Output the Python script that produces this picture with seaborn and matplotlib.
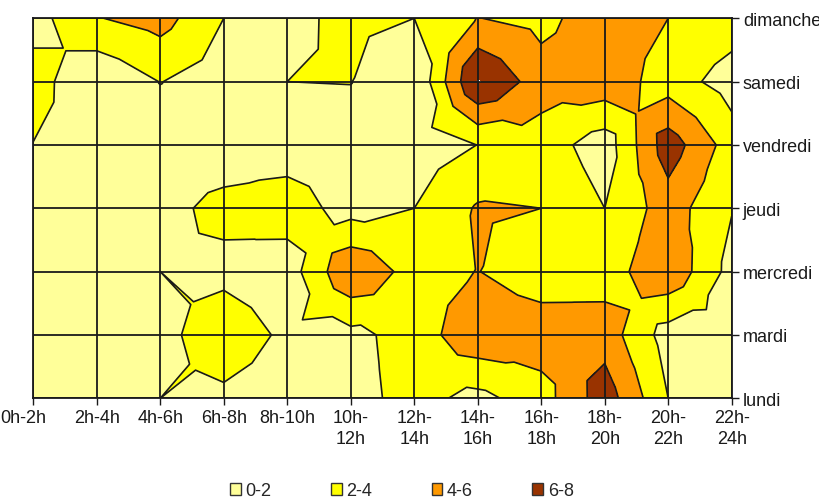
import numpy as np
import matplotlib
matplotlib.use("Agg")
import matplotlib.pyplot as plt
import matplotlib.tri as mtri
import matplotlib.transforms as mtransforms
from matplotlib.patches import Patch
import seaborn as sns

hours = ['0h-2h', '2h-4h', '4h-6h', '6h-8h', '8h-10h', '10h-\n12h', '12h-\n14h',
         '14h-\n16h', '16h-\n18h', '18h-\n20h', '20h-\n22h', '22h-\n24h']
days = ['lundi', 'mardi', 'mercredi', 'jeudi', 'vendredi', 'samedi', 'dimanche']

# one list per day, one value per 2h slot
lundi = [1.0, 1.0, 2.0, 1.6, 1.0, 1.3, 2.7, 1.4, 3.1, 7.1, 2.0, 1.0]
mardi = [1.0, 1.0, 1.4, 3.2, 1.6, 1.4, 2.9, 5.5, 5.2, 5.1, 1.1, 1.0]
mercredi = [1.0, 1.0, 2.0, 1.5, 0.95, 5.8, 3.15, 4.05, 2.85, 3.0, 5.6, 1.3]
jeudi = [1.0, 1.0, 1.46, 2.5, 3.0, 1.2, 2.0, 4.2, 4.0, 2.0, 5.0, 2.1]
vendredi = [1.95, 1.0, 1.0, 1.0, 1.0, 1.0, 1.0, 2.02, 3.1, 0.9, 7.1, 3.0]
samedi = [2.9, 0.2, 2.05, 1.0, 2.0, 2.05, 0.0, 8.2, 4.9, 5.3, 3.0, 1.1]
dimanche = [1.2, 3.9, 4.8, 2.0, 1.5, 2.5, 2.0, 4.05, 3.4, 5.2, 4.0, 3.0]

levels = [0, 2, 4, 6, 8]
level_labels = ['0-2', '2-4', '4-6', '6-8']
level_colors = ['#FFFF99', '#FFFF00', '#FF9900', '#993300']

z = np.array([lundi, mardi, mercredi, jeudi, vendredi, samedi, dimanche])
ny, nx = z.shape

# nodes + cell centres, each cell split in 4 triangles (like the spreadsheet surface)
gx, gy = np.meshgrid(np.arange(nx), np.arange(ny))
cx, cy = np.meshgrid(np.arange(nx - 1) + 0.5, np.arange(ny - 1) + 0.5)
cz = (z[:-1, :-1] + z[1:, :-1] + z[:-1, 1:] + z[1:, 1:]) / 4.0
xs = np.concatenate([gx.ravel(), cx.ravel()])
ys = np.concatenate([gy.ravel(), cy.ravel()])
vals = np.concatenate([z.ravel(), cz.ravel()])

tris = []
for j in range(ny - 1):
    for i in range(nx - 1):
        a = j * nx + i
        b = a + 1
        c = a + nx + 1
        d = a + nx
        m = nx * ny + j * (nx - 1) + i
        tris += [[a, b, m], [b, c, m], [c, d, m], [d, a, m]]
tri = mtri.Triangulation(xs, ys, np.array(tris))

sns.set_theme(style="white")
plt.rcParams['font.family'] = ['Liberation Sans', 'DejaVu Sans']

fig = plt.figure(figsize=(8.2, 5.02), dpi=100)
ax = fig.add_axes([0.0406, 0.2046, 0.8517, 0.757])

ax.tricontourf(tri, vals, levels=levels, colors=level_colors)
ax.tricontour(tri, vals, levels=[2, 4, 6], colors='k', linewidths=1.2)

ax.set_xlim(0, nx - 1)
ax.set_ylim(0, ny - 1)
ax.set_xticks(range(nx))
ax.set_xticklabels(hours, va='top', linespacing=1.25)
ax.set_yticks(range(ny))
ax.set_yticklabels(days)
ax.yaxis.tick_right()
ax.grid(True, color='k', linewidth=1.3)
ax.set_axisbelow(False)
for s in ax.spines.values():
    s.set_color('k')
    s.set_linewidth(1.3)
ax.tick_params(axis='both', direction='out', length=5, width=1, color='k',
               labelsize=13, labelcolor='k', pad=3)
ax.tick_params(axis='x', bottom=True)
ax.tick_params(axis='y', right=True, left=False)

# first hour label sits against the left edge of the canvas
first = ax.get_xticklabels()[0]
first.set_transform(first.get_transform() +
                    mtransforms.ScaledTranslation(-0.1, 0, fig.dpi_scale_trans))

handles = [Patch(facecolor=c, edgecolor='#333333', label=l)
           for c, l in zip(level_colors, level_labels)]
fig.legend(handles=handles, loc='center', ncol=4, frameon=False,
           bbox_to_anchor=(0.49, 0.02), columnspacing=3.3, handlelength=0.6,
           handleheight=0.6, handletextpad=0.25, fontsize=13)

fig.savefig('out.png', dpi=100)
